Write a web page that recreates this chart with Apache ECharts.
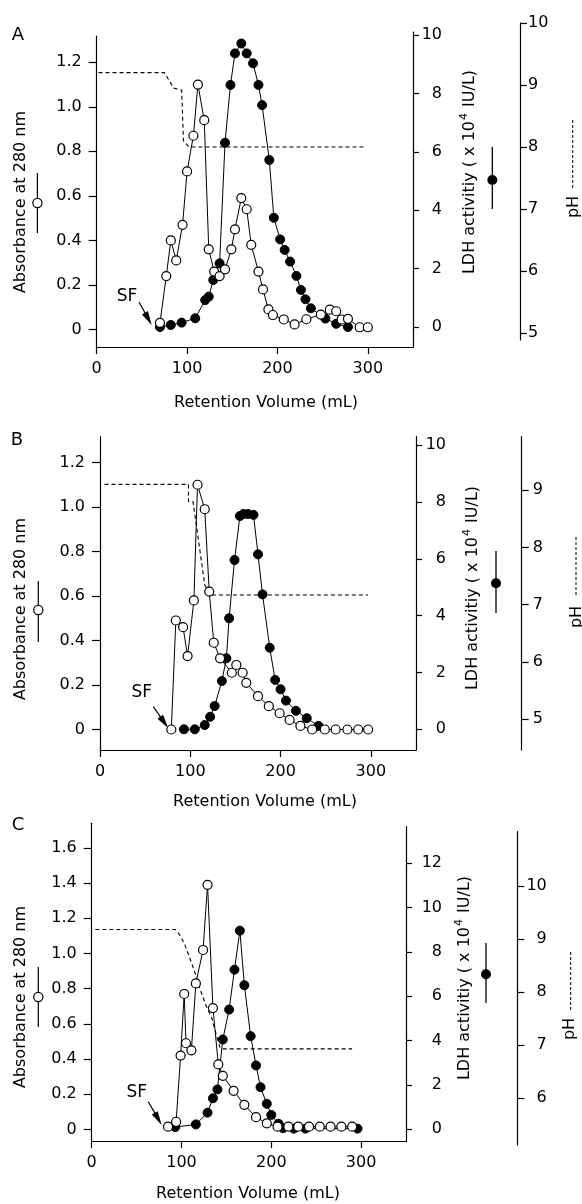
<!DOCTYPE html>
<html><head><meta charset="utf-8">
<script src="https://cdn.jsdelivr.net/npm/echarts@6/dist/echarts.min.js"></script>
<style>html,body{margin:0;padding:0;background:#fff}#c{width:582px;height:1204px}</style>
</head><body><div id="c"></div>
<script>
// ---------------- data ----------------
const xTicks = [0, 100, 200, 300];
const absTicksAB = [0, 0.2, 0.4, 0.6, 0.8, 1.0, 1.2];
const absTicksC = [0, 0.2, 0.4, 0.6, 0.8, 1.0, 1.2, 1.4, 1.6];
const ldhTicksAB = [0, 2, 4, 6, 8, 10];
const ldhTicksC = [0, 2, 4, 6, 8, 10, 12];
const phTicksA = [5, 6, 7, 8, 9, 10];
const phTicksB = [5, 6, 7, 8, 9];
const phTicksC = [6, 7, 8, 9, 10];

// Panel A
const A_absVol = [70, 77, 82, 88, 95, 100, 107, 112, 119, 124, 130, 136, 142, 149, 153, 160, 166, 171, 179, 184, 190, 195, 207, 219, 232, 248, 258, 265, 271, 278, 291, 300];
const A_abs    = [0.03, 0.24, 0.40, 0.31, 0.47, 0.71, 0.87, 1.10, 0.94, 0.36, 0.26, 0.24, 0.27, 0.36, 0.45, 0.59, 0.54, 0.38, 0.26, 0.18, 0.09, 0.065, 0.045, 0.023, 0.046, 0.067, 0.089, 0.082, 0.045, 0.048, 0.01, 0.01];
const A_ldhVol = [70, 82, 94, 109, 120, 124, 129, 136, 142, 148, 153, 160, 166, 173, 179, 183, 191, 196, 203, 208, 214, 221, 226, 231, 237, 253, 265, 278];
const A_ldh    = [0, 0.07, 0.15, 0.3, 0.92, 1.04, 1.61, 2.18, 6.31, 8.29, 9.37, 9.71, 9.37, 9.03, 8.29, 7.6, 5.72, 3.74, 3.0, 2.64, 2.24, 1.75, 1.27, 0.95, 0.64, 0.29, 0.11, 0];
const A_phVol  = [2, 75, 85, 94, 96, 102, 295];
const A_ph     = [9.2, 9.2, 8.95, 8.92, 8.1, 8.0, 8.0];

// Panel B
const B_absVol = [79, 84, 92, 97, 104, 108, 116, 121, 126, 133, 146, 151, 158, 162, 175, 187, 199, 210, 222, 235, 249, 261, 274, 286, 297];
const B_abs    = [0, 0.49, 0.46, 0.33, 0.58, 1.10, 0.99, 0.62, 0.39, 0.32, 0.255, 0.29, 0.255, 0.21, 0.15, 0.105, 0.073, 0.043, 0.016, 0, 0, 0, 0, 0, 0];
const B_ldhVol = [93, 105, 116, 122, 127, 135, 140, 143, 149, 155, 159, 164, 170, 175, 180, 188, 194, 200, 206, 217, 229, 242];
const B_ldh    = [0, 0, 0.15, 0.44, 0.82, 1.7, 2.5, 3.91, 5.96, 7.51, 7.58, 7.58, 7.55, 6.16, 4.75, 2.87, 1.74, 1.41, 1.01, 0.65, 0.39, 0.12];
const B_phVol  = [5, 98, 98, 103, 116, 122, 297];
const B_ph     = [9.1, 9.1, 8.8, 8.8, 7.35, 7.17, 7.17];

// Panel C
const C_absVol = [85, 94, 99, 103, 105, 111, 116, 124, 129, 135, 141, 146, 158, 170, 183, 195, 207, 219, 230, 242, 254, 266, 278, 290];
const C_abs    = [0.016, 0.044, 0.42, 0.77, 0.49, 0.45, 0.83, 1.02, 1.39, 0.69, 0.37, 0.305, 0.22, 0.14, 0.07, 0.035, 0.016, 0.016, 0.016, 0.016, 0.016, 0.016, 0.016, 0.016];
const C_ldhVol = [93, 116, 129, 135, 140, 146, 153, 159, 165, 170, 177, 183, 188, 195, 200, 208, 213, 225, 238, 296];
const C_ldh    = [0.1, 0.22, 0.75, 1.4, 1.8, 4.05, 5.4, 7.2, 8.96, 6.5, 4.2, 2.88, 1.9, 1.15, 0.65, 0.25, 0.05, 0.03, 0.03, 0.03];
const C_phVol  = [4, 93, 98, 103, 108, 115, 121, 127, 134, 139, 143, 146, 290];
const C_ph     = [9.18, 9.18, 9.08, 8.92, 8.7, 8.37, 8.04, 7.76, 7.5, 7.18, 6.95, 6.93, 6.93];

// ---------------- layout ----------------
const FONT = 'DejaVu Sans';
const FS = 16;
const panels = [
  { letter: 'A', letterPos: [18, 35],
    left: 96.7, right: 413, xMax: 350, xLabelMargin: 14,
    abs: { v0: 0, p0: 329.5, ppu: 222.7, top: 36, bottom: 347, ticks: absTicksAB, margin: 15 },
    ldh: { v0: 0, p0: 327, ppu: 29.2, top: 32, bottom: 347, ticks: ldhTicksAB, margin: 29, align: 'right' },
    ph:  { v0: 5, p0: 333, ppu: 62, top: 23, bottom: 340, ticks: phTicksA, x: 520, margin: 8, align: 'left' },
    data: { absVol: A_absVol, abs: A_abs, ldhVol: A_ldhVol, ldh: A_ldh, phVol: A_phVol, ph: A_ph },
    absTitle: [21, 202], absSym: [37.4, 203, 173, 233],
    ldhTitle: [470, 172], ldhSym: [492.3, 180, 147, 209],
    phTitle: [574, 207], phSym: [572.7, 120, 190],
    xTitle: [266, 403],
    sf: [127, 297], arrow: [139, 302, 151.7, 325] },
  { letter: 'B', letterPos: [17, 440],
    left: 100, right: 416, xMax: 350, xLabelMargin: 14,
    abs: { v0: 0, p0: 729.5, ppu: 222.5, top: 436.7, bottom: 750, ticks: absTicksAB, margin: 15 },
    ldh: { v0: 0, p0: 729.3, ppu: 28.4, top: 436.7, bottom: 750, ticks: ldhTicksAB, margin: 30, align: 'right' },
    ph:  { v0: 5, p0: 719.3, ppu: 57.3, top: 436.7, bottom: 750, ticks: phTicksB, x: 521.7, margin: 11, align: 'left' },
    data: { absVol: B_absVol, abs: B_abs, ldhVol: B_ldhVol, ldh: B_ldh, phVol: B_phVol, ph: B_ph },
    absTitle: [21, 609], absSym: [38.3, 610, 581, 642],
    ldhTitle: [473, 588], ldhSym: [496, 583.3, 551, 613],
    phTitle: [576.5, 617], phSym: [576, 537, 597],
    xTitle: [265, 802],
    sf: [141.7, 693], arrow: [153.3, 706.7, 168.3, 728.3] },
  { letter: 'C', letterPos: [18, 825],
    left: 91.7, right: 406, xMax: 350, xLabelMargin: 14,
    abs: { v0: 0, p0: 1129.5, ppu: 176, top: 823.3, bottom: 1141.2, ticks: absTicksC, margin: 15 },
    ldh: { v0: 0, p0: 1129.3, ppu: 22.17, top: 826.7, bottom: 1141.7, ticks: ldhTicksC, margin: 36, align: 'right' },
    ph:  { v0: 6, p0: 1098.3, ppu: 53.1, top: 831.7, bottom: 1145, ticks: phTicksC, x: 517.3, margin: 29.5, align: 'right' },
    data: { absVol: C_absVol, abs: C_abs, ldhVol: C_ldhVol, ldh: C_ldh, phVol: C_phVol, ph: C_ph },
    absTitle: [21, 997], absSym: [38.3, 997, 967, 1027],
    ldhTitle: [465, 978], ldhSym: [486, 974.3, 943, 1003],
    phTitle: [570, 1029], phSym: [570.7, 952, 1010],
    xTitle: [248, 1194],
    sf: [136.7, 1093], arrow: [148.3, 1101.7, 161.7, 1125] }
];

function rng(a) { return { min: a.v0 - (a.bottom - a.p0) / a.ppu, max: a.v0 + (a.p0 - a.top) / a.ppu }; }
function zip(xs, ys) { return xs.map((x, i) => [x, ys[i]]); }
const AX = { color: '#000', width: 1.2 };
const absFmt = v => (v === 0 ? '0' : v.toFixed(1));
const intFmt = v => String(v);

const grids = [], xAxes = [], yAxes = [], series = [], graphics = [];

function yAxis(gi, a, pos, offset, align, fmt, tickLen) {
  const r = rng(a);
  return {
    gridIndex: gi, type: 'value', min: r.min, max: r.max, position: pos, offset: offset,
    axisLine: { show: true, onZero: false, lineStyle: AX },
    axisTick: { show: true, inside: false, length: tickLen, customValues: a.ticks, lineStyle: AX },
    axisLabel: { show: true, customValues: a.ticks, margin: a.margin, align: align, color: '#000',
                 fontFamily: FONT, fontSize: FS, formatter: fmt },
    splitLine: { show: false }, axisPointer: { show: false }
  };
}

function arrow(x1, y1, x2, y2) {
  const dx = x2 - x1, dy = y2 - y1, L = Math.hypot(dx, dy), ux = dx / L, uy = dy / L;
  const hl = 14, hw = 3.4, bx = x2 - ux * hl, by = y2 - uy * hl;
  return [
    { type: 'line', shape: { x1: x1, y1: y1, x2: bx + ux * 2, y2: by + uy * 2 }, style: { stroke: '#000', lineWidth: 1.2 } },
    { type: 'polygon', shape: { points: [[x2, y2], [bx - uy * hw, by + ux * hw], [bx + uy * hw, by - ux * hw]] }, style: { fill: '#000' } }
  ];
}
function txt(x, y, text, size, rot) {
  return { type: 'text', x: x, y: y, rotation: rot ? Math.PI / 2 : 0,
    style: { text: text, fontFamily: FONT, fontSize: size, fill: '#000', align: 'center', verticalAlign: 'middle' } };
}

panels.forEach((p, k) => {
  const w = p.right - p.left;
  const gMain = 3 * k, gLdh = 3 * k + 1, gPh = 3 * k + 2;
  grids.push({ left: p.left, top: p.abs.top, width: w, height: p.abs.bottom - p.abs.top });
  grids.push({ left: p.left, top: p.ldh.top, width: w, height: p.ldh.bottom - p.ldh.top });
  grids.push({ left: p.left, top: p.ph.top, width: w, height: p.ph.bottom - p.ph.top });
  [gMain, gLdh, gPh].forEach(gi => {
    const main = gi === gMain;
    xAxes.push({
      gridIndex: gi, type: 'value', min: 0, max: p.xMax, show: main, position: 'bottom',
      axisLine: { show: main, onZero: false, lineStyle: AX },
      axisTick: { show: main, inside: false, length: 7, customValues: xTicks, lineStyle: AX },
      axisLabel: { show: main, customValues: xTicks, margin: p.xLabelMargin, color: '#000', fontFamily: FONT, fontSize: FS },
      splitLine: { show: false }, axisPointer: { show: false }
    });
  });
  yAxes.push(yAxis(gMain, p.abs, 'left', 0, 'right', absFmt, 8));
  yAxes.push(yAxis(gLdh, p.ldh, 'right', 0, p.ldh.align, intFmt, 6));
  yAxes.push(yAxis(gPh, p.ph, 'right', p.ph.x - p.right, p.ph.align, intFmt, 7));

  const d = p.data;
  series.push({ type: 'line', xAxisIndex: gPh, yAxisIndex: gPh, data: zip(d.phVol, d.ph), symbol: 'none',
    lineStyle: { color: '#000', width: 1.1, type: [4, 3] }, silent: true, z: 2 });
  series.push({ type: 'line', xAxisIndex: gLdh, yAxisIndex: gLdh, data: zip(d.ldhVol, d.ldh), symbol: 'circle', symbolSize: 9,
    lineStyle: { color: '#000', width: 1 }, itemStyle: { color: '#000', borderColor: '#000', borderWidth: 1 }, silent: true, z: 3 });
  series.push({ type: 'line', xAxisIndex: gMain, yAxisIndex: gMain, data: zip(d.absVol, d.abs), symbol: 'circle', symbolSize: 9,
    lineStyle: { color: '#000', width: 1 }, itemStyle: { color: '#fff', borderColor: '#000', borderWidth: 1.2 }, silent: true, z: 4 });

  // annotations
  graphics.push(txt(p.letterPos[0], p.letterPos[1], p.letter, 18, false));
  graphics.push(txt(p.absTitle[0], p.absTitle[1], 'Absorbance at 280 nm', FS, true));
  graphics.push({ type: 'line', shape: { x1: p.absSym[0], y1: p.absSym[2], x2: p.absSym[0], y2: p.absSym[3] }, style: { stroke: '#000', lineWidth: 1.2 } });
  graphics.push({ type: 'circle', shape: { cx: p.absSym[0], cy: p.absSym[1], r: 4.6 }, style: { fill: '#fff', stroke: '#000', lineWidth: 1.2 } });
  graphics.push({ type: 'text', x: p.ldhTitle[0], y: p.ldhTitle[1], rotation: Math.PI / 2,
    style: { text: '{a|LDH activitiy ( x 10}{s|4}{a| IU/L)}', align: 'center', verticalAlign: 'middle',
      rich: { a: { fontFamily: FONT, fontSize: FS, fill: '#000', lineHeight: 22 },
              s: { fontFamily: FONT, fontSize: 11, fill: '#000', lineHeight: 10, verticalAlign: 'top', padding: [0, 1, 0, 1] } } } });
  graphics.push({ type: 'line', shape: { x1: p.ldhSym[0], y1: p.ldhSym[2], x2: p.ldhSym[0], y2: p.ldhSym[3] }, style: { stroke: '#000', lineWidth: 1.3 } });
  graphics.push({ type: 'circle', shape: { cx: p.ldhSym[0], cy: p.ldhSym[1], r: 5 }, style: { fill: '#000' } });
  graphics.push(txt(p.phTitle[0], p.phTitle[1], 'pH', FS, true));
  graphics.push({ type: 'line', shape: { x1: p.phSym[0], y1: p.phSym[1], x2: p.phSym[0], y2: p.phSym[2] }, style: { stroke: '#000', lineWidth: 1, lineDash: [3, 2] } });
  graphics.push(txt(p.xTitle[0], p.xTitle[1], 'Retention Volume (mL)', FS, false));
  graphics.push(txt(p.sf[0], p.sf[1], 'SF', 17, false));
  arrow(p.arrow[0], p.arrow[1], p.arrow[2], p.arrow[3]).forEach(g => graphics.push(g));
});

const chart = echarts.init(document.getElementById('c'), null, { renderer: 'canvas' });
chart.setOption({
  backgroundColor: '#fff',
  animation: false,
  grid: grids, xAxis: xAxes, yAxis: yAxes, series: series,
  graphic: { elements: graphics }
});
</script></body></html>
